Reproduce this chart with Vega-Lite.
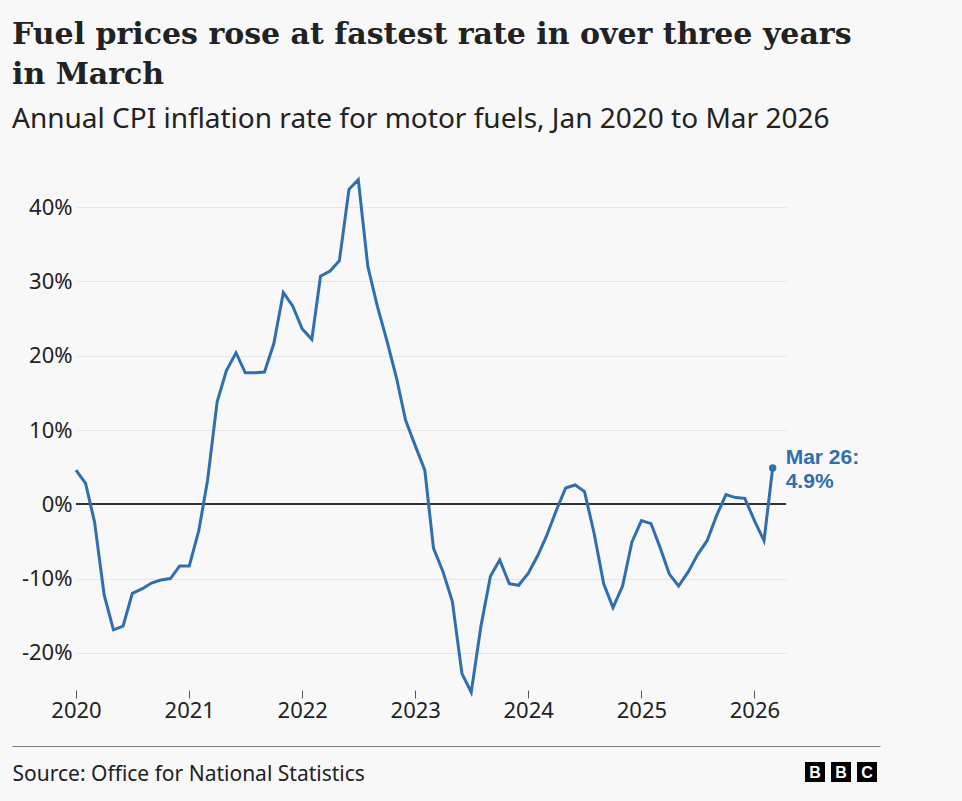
{
  "$schema": "https://vega.github.io/schema/vega-lite/v6.json",
  "width": 710,
  "height": 520,
  "autosize": {"type": "none"},
  "padding": {"left": 76, "top": 170, "right": 176, "bottom": 111},
  "background": "#f8f8f8",
  "config": {"view": {"stroke": null}},
  "title": {
    "text": ["Fuel prices rose at fastest rate in over three years", "in March"],
    "subtitle": "Annual CPI inflation rate for motor fuels, Jan 2020 to Mar 2026",
    "anchor": "start",
    "frame": "group",
    "dx": -64,
    "offset": 36,
    "font": "DejaVu Serif",
    "fontSize": 30,
    "fontWeight": "bold",
    "color": "#222222",
    "lineHeight": 40,
    "subtitleFont": "Noto Sans",
    "subtitleFontSize": 28,
    "subtitleColor": "#222222",
    "subtitlePadding": 16
  },
  "resolve": {"scale": {"x": "independent", "y": "independent"}, "axis": {"x": "independent", "y": "independent"}},
  "layer": [
    {
      "data": {"values": [
        {"date": "2020-01-01", "value": 4.6}, {"date": "2020-02-01", "value": 2.8}, {"date": "2020-03-01", "value": -2.4},
        {"date": "2020-04-01", "value": -12.2}, {"date": "2020-05-01", "value": -16.9}, {"date": "2020-06-01", "value": -16.4},
        {"date": "2020-07-01", "value": -12.0}, {"date": "2020-08-01", "value": -11.4}, {"date": "2020-09-01", "value": -10.6},
        {"date": "2020-10-01", "value": -10.2}, {"date": "2020-11-01", "value": -10.0}, {"date": "2020-12-01", "value": -8.3},
        {"date": "2021-01-01", "value": -8.3}, {"date": "2021-02-01", "value": -3.5}, {"date": "2021-03-01", "value": 3.2},
        {"date": "2021-04-01", "value": 13.8}, {"date": "2021-05-01", "value": 18.0}, {"date": "2021-06-01", "value": 20.4},
        {"date": "2021-07-01", "value": 17.7}, {"date": "2021-08-01", "value": 17.7}, {"date": "2021-09-01", "value": 17.8},
        {"date": "2021-10-01", "value": 21.6}, {"date": "2021-11-01", "value": 28.5}, {"date": "2021-12-01", "value": 26.7},
        {"date": "2022-01-01", "value": 23.6}, {"date": "2022-02-01", "value": 22.2}, {"date": "2022-03-01", "value": 30.7},
        {"date": "2022-04-01", "value": 31.4}, {"date": "2022-05-01", "value": 32.8}, {"date": "2022-06-01", "value": 42.4},
        {"date": "2022-07-01", "value": 43.7}, {"date": "2022-08-01", "value": 32.0}, {"date": "2022-09-01", "value": 26.6},
        {"date": "2022-10-01", "value": 22.1}, {"date": "2022-11-01", "value": 17.1}, {"date": "2022-12-01", "value": 11.3},
        {"date": "2023-01-01", "value": 7.9}, {"date": "2023-02-01", "value": 4.6}, {"date": "2023-03-01", "value": -5.9},
        {"date": "2023-04-01", "value": -9.1}, {"date": "2023-05-01", "value": -13.1}, {"date": "2023-06-01", "value": -22.8},
        {"date": "2023-07-01", "value": -25.3}, {"date": "2023-08-01", "value": -16.5}, {"date": "2023-09-01", "value": -9.7},
        {"date": "2023-10-01", "value": -7.5}, {"date": "2023-11-01", "value": -10.7}, {"date": "2023-12-01", "value": -10.9},
        {"date": "2024-01-01", "value": -9.3}, {"date": "2024-02-01", "value": -6.9}, {"date": "2024-03-01", "value": -4.2},
        {"date": "2024-04-01", "value": -0.8}, {"date": "2024-05-01", "value": 2.2}, {"date": "2024-06-01", "value": 2.6},
        {"date": "2024-07-01", "value": 1.7}, {"date": "2024-08-01", "value": -3.9}, {"date": "2024-09-01", "value": -10.7},
        {"date": "2024-10-01", "value": -13.9}, {"date": "2024-11-01", "value": -11.0}, {"date": "2024-12-01", "value": -5.1},
        {"date": "2025-01-01", "value": -2.2}, {"date": "2025-02-01", "value": -2.6}, {"date": "2025-03-01", "value": -5.7},
        {"date": "2025-04-01", "value": -9.4}, {"date": "2025-05-01", "value": -11.0}, {"date": "2025-06-01", "value": -9.1},
        {"date": "2025-07-01", "value": -6.8}, {"date": "2025-08-01", "value": -4.9}, {"date": "2025-09-01", "value": -1.5},
        {"date": "2025-10-01", "value": 1.3}, {"date": "2025-11-01", "value": 0.9}, {"date": "2025-12-01", "value": 0.8},
        {"date": "2026-01-01", "value": -2.2}, {"date": "2026-02-01", "value": -4.9}, {"date": "2026-03-01", "value": 4.9}
      ]},
      "encoding": {
        "x": {
          "field": "date", "type": "temporal",
          "scale": {"type": "utc", "domain": [{"year": 2020, "month": 1, "date": 1, "utc": true}, {"year": 2026, "month": 4, "date": 13, "utc": true}]},
          "axis": {
            "title": null,
            "values": [
              {"year": 2020, "month": 1, "date": 1, "utc": true}, {"year": 2021, "month": 1, "date": 1, "utc": true},
              {"year": 2022, "month": 1, "date": 1, "utc": true}, {"year": 2023, "month": 1, "date": 1, "utc": true},
              {"year": 2024, "month": 1, "date": 1, "utc": true}, {"year": 2025, "month": 1, "date": 1, "utc": true},
              {"year": 2026, "month": 1, "date": 1, "utc": true}
            ],
            "format": "%Y", "formatType": "utc",
            "domain": false, "grid": false,
            "ticks": true, "tickSize": 8, "tickColor": "#555555", "tickWidth": 1,
            "labelPadding": 2, "labelFont": "Noto Sans", "labelFontSize": 22, "labelColor": "#222222",
            "labelFlush": false
          }
        },
        "y": {
          "field": "value", "type": "quantitative",
          "scale": {"domain": [-25, 45], "nice": false, "zero": false},
          "axis": {
            "title": null,
            "values": [-20, -10, 0, 10, 20, 30, 40],
            "labelExpr": "datum.value + '%'",
            "domain": false, "ticks": false, "tickSize": 0,
            "grid": true, "gridColor": "#e6e6e6", "gridWidth": 1,
            "labelPadding": 4, "labelFont": "Noto Sans", "labelFontSize": 22, "labelColor": "#222222"
          }
        }
      },
      "layer": [
        {"mark": {"type": "rule", "color": "#333333", "strokeWidth": 1}, "encoding": {"y": {"datum": 0, "type": "quantitative"}, "x": null}},
        {"mark": {"type": "line", "color": "#2f6fae", "strokeWidth": 3, "strokeJoin": "miter"}},
        {
          "transform": [{"filter": "utcyear(datum.date) == 2026 && utcmonth(datum.date) == 2"}],
          "mark": {"type": "point", "filled": true, "opacity": 1, "color": "#2f6fae", "size": 55}
        },
        {
          "transform": [{"filter": "utcyear(datum.date) == 2026 && utcmonth(datum.date) == 2"}],
          "mark": {"type": "text", "align": "left", "baseline": "alphabetic", "dx": 13, "dy": -4, "color": "#2f6fae",
                   "font": "Liberation Sans", "fontWeight": "bold", "fontSize": 21, "lineHeight": 24},
          "encoding": {"text": {"value": ["Mar 26:", "4.9%"]}}
        }
      ]
    },
    {
      "data": {"values": [{"note": "source"}]},
      "mark": {"type": "rule", "opacity": 0},
      "encoding": {
        "x": {
          "datum": 0, "type": "quantitative",
          "scale": {"domain": [0, 1], "range": [-64, 804]},
          "axis": {
            "orient": "bottom", "offset": 56,
            "domain": true, "domainColor": "#7a7a7a", "domainWidth": 1,
            "ticks": false, "labels": false, "grid": false,
            "title": "Source: Office for National Statistics",
            "titleX": -64, "titleY": 34, "titleAlign": "left", "titleBaseline": "alphabetic",
            "titleFont": "Noto Sans", "titleFontSize": 21, "titleFontWeight": "normal", "titleColor": "#222222"
          }
        }
      }
    },
    {
      "data": {"values": [{"id": "b1", "letter": "B"}, {"id": "b2", "letter": "B"}, {"id": "c", "letter": "C"}]},
      "encoding": {
        "x": {"field": "id", "type": "nominal", "scale": {"type": "point", "domain": ["b1", "b2", "c"], "range": [739, 791], "padding": 0}, "axis": null},
        "y": {"datum": 0, "type": "quantitative", "scale": {"domain": [0, 1], "range": [602, 0]}, "axis": null}
      },
      "layer": [
        {"mark": {"type": "square", "size": 400, "color": "#000000", "filled": true, "opacity": 1}},
        {"mark": {"type": "text", "color": "#ffffff", "font": "Liberation Sans", "fontWeight": "bold", "fontSize": 16, "baseline": "middle", "align": "center", "dy": 1},
         "encoding": {"text": {"field": "letter"}}}
      ]
    }
  ]
}
